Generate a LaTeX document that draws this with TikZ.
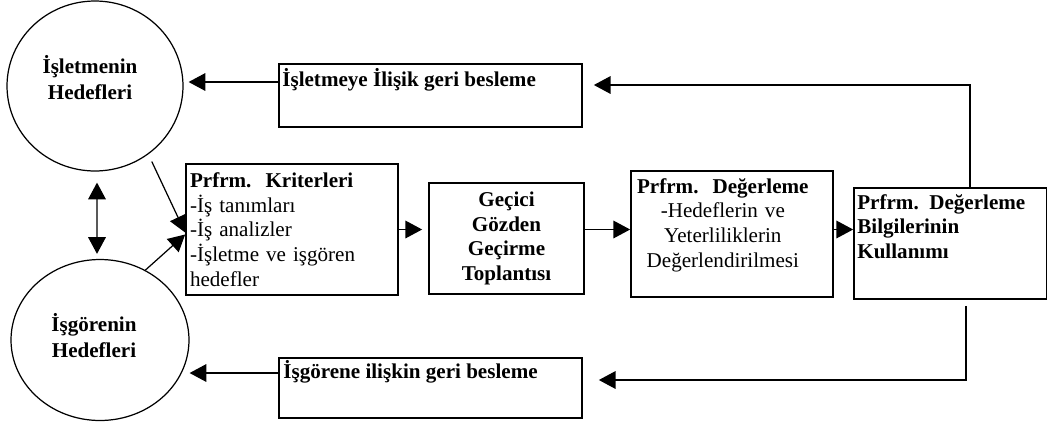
\documentclass[tikz,border=0pt]{standalone}
\usepackage{fontspec}
\setmainfont{Liberation Serif}
\usetikzlibrary{shapes.geometric,arrows.meta}

\tikzset{
  hedef/.style={ellipse,draw=black,line width=0.7pt,inner sep=0pt},
  kutu/.style={rectangle,draw=black,line width=1pt,inner sep=0pt},
  yazi/.style={inner sep=0pt,font=\fontsize{12pt}{14pt}\selectfont},
  kalin/.style={yazi,font=\fontsize{12pt}{14pt}\selectfont\bfseries},
  ok/.style={line width=0.7pt,-{Triangle[length=9.5pt,width=10pt]}},
  cift/.style={line width=0.7pt,{Triangle[length=9.5pt,width=10pt]}-{Triangle[length=9.5pt,width=10pt]}},
}

\begin{document}
\begin{tikzpicture}[x=0.02cm,y=-0.02cm]
        \useasboundingbox (0,0) rectangle (1048,427);
        \node[hedef,minimum width=3.52cm,minimum height=3.4cm] (isletme) at (95,86) {};
        \node[hedef,minimum width=3.56cm,minimum height=3.22cm] (isgoren) at (100,340) {};
        \node[kalin,align=center,font=\fontsize{12pt}{14.6pt}\selectfont\bfseries,anchor=north] (isletmeYazi) at (90,55) {İşletmenin\\Hedefleri};
        \node[kalin,align=center,font=\fontsize{12pt}{14.6pt}\selectfont\bfseries,anchor=north] (isgorenYazi) at (94,313) {İşgörenin\\Hedefleri};
        \node[kutu,minimum width=6.06cm,minimum height=1.26cm] (fbtop) at (430.5,95.5) {};
        \node[kalin,anchor=north west] (fbtopYazi) at (282,68) {İşletmeye İlişik geri besleme};
        \node[kutu,minimum width=6.06cm,minimum height=1.2cm] (fbbot) at (430.5,388) {};
        \node[kalin,anchor=north west] (fbbotYazi) at (283,360) {İşgörene ilişkin geri besleme};
        \node[kutu,yazi,align=left,text width=4.08cm,minimum width=4.24cm,minimum height=2.62cm] (krit) at (292,229.5)
            {\textbf{Prfrm.~~Kriterleri}\\-İş tanımları\\-İş analizler\\-İşletme ve işgören\\hedefler};
        \node[kutu,kalin,align=center,minimum width=3.1cm,minimum height=2.22cm] (gecici) at (506.5,238.5)
            {Geçici\\Gözden\\Geçirme\\Toplantısı};
        \node[kutu,minimum width=4.04cm,minimum height=2.52cm] (deger) at (732,234) {};
        \node[yazi,align=center,text width=3.5cm,anchor=north west] (degerYazi) at (635,178)
            {\textbf{Prfrm.~~Değerleme}\\-Hedeflerin ve\\Yeterliliklerin\\Değerlendirilmesi};
        \node[kutu,minimum width=3.85cm,minimum height=2.22cm] (bilgi) at (950.25,243.5) {};
        \node[kalin,align=left,anchor=north west] (bilgiYazi) at (857,194)
            {Prfrm.~~Değerleme\\Bilgilerinin\\Kullanımı};
        \coordinate (ustKose) at (970,85);
        \coordinate (altKose) at (966,380);
        \draw[ok] ([yshift=0.27cm]fbtop.west) -- ([xshift=0.1cm,yshift=0.27cm]fbtop.west -| isletme.east);
        \draw[ok] ([yshift=0.3cm]fbbot.west) -- ([yshift=0.3cm]fbbot.west -| isgoren.east);
        \draw[cift] ([xshift=0.04cm,yshift=-0.22cm]isletme.south) -- ([xshift=-0.06cm,yshift=0.1cm]isgoren.north);
        \draw[ok,shorten <=0.16cm] (isletme.-52) -- ([yshift=-0.06cm]krit.west);
        \draw[ok] (isgoren.57) -- ([yshift=-0.1cm]krit.west);
        \draw[ok,shorten >=0.12cm] (krit.east) -- (krit.east -| gecici.west);
        \draw[ok] (gecici.east |- krit.east) -- (deger.west |- krit.east);
        \draw[ok] (deger.east |- krit.east) -- (bilgi.west |- krit.east);
        \draw[ok] (bilgi.north -| ustKose) -- (ustKose) -- ([xshift=0.22cm]ustKose -| fbtop.east);
        \draw[ok] ([yshift=-0.12cm]bilgi.south -| altKose) -- (altKose) -- ([xshift=0.32cm]altKose -| fbbot.east);
\end{tikzpicture}
\end{document}
